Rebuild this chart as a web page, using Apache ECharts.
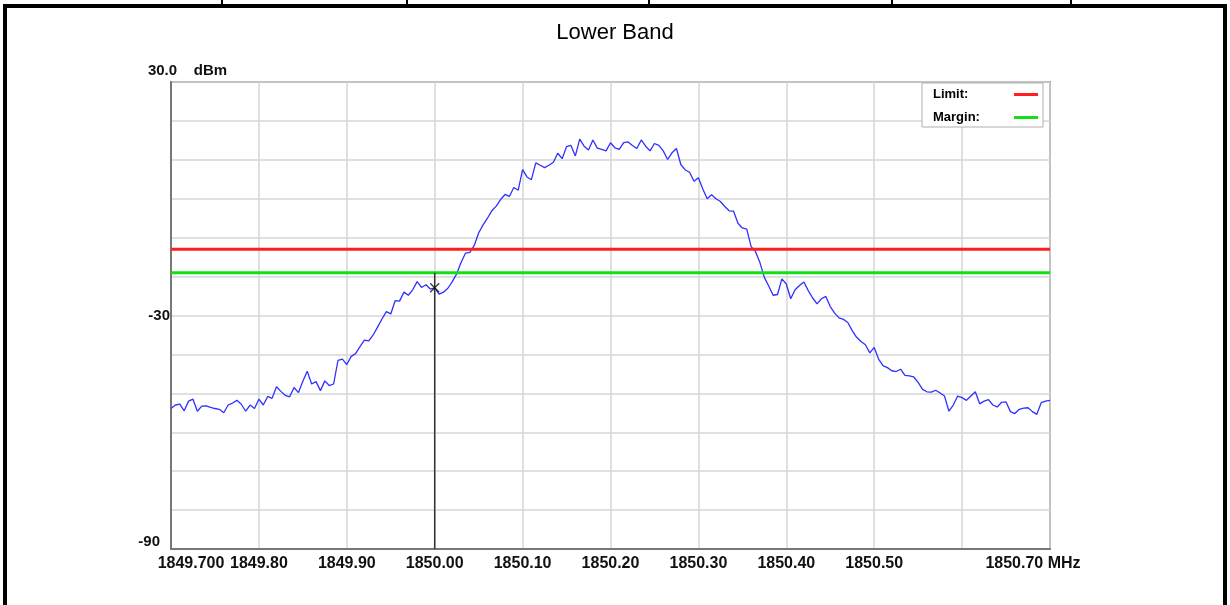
<!DOCTYPE html>
<html><head><meta charset="utf-8">
<script src="https://cdn.jsdelivr.net/npm/echarts@6/dist/echarts.min.js"></script>
<style>html,body{margin:0;padding:0;background:#fff}#c{width:1230px;height:605px}</style>
</head><body><div id="c"></div>
<script>
// Sweep: 1849.700 .. 1850.700 MHz, 5 kHz per trace point
const startMHz = 1849.70;
const stepMHz = 0.005;
const traceDbm = [
-53.9,-53.0,-52.8,-54.5,-52.0,-51.5,-54.6,-53.3,-53.2,-53.6,
-53.9,-54.1,-55.0,-53.0,-52.5,-51.8,-52.8,-54.6,-53.0,-53.9,
-51.5,-53.0,-50.8,-51.3,-48.3,-49.5,-50.5,-50.9,-48.5,-49.8,
-46.9,-44.3,-47.6,-47.0,-49.3,-46.8,-48.0,-47.6,-41.5,-41.2,
-42.6,-40.5,-39.8,-38.0,-36.3,-36.5,-35.0,-33.0,-30.9,-29.0,
-29.6,-26.2,-26.3,-24.0,-24.8,-23.4,-21.3,-22.8,-22.1,-23.2,
-22.9,-24.5,-24.0,-23.0,-21.3,-19.3,-16.4,-14.0,-13.8,-12.0,
-8.8,-6.7,-5.0,-3.1,-1.9,-0.2,1.1,0.6,2.9,2.2,
7.5,5.6,4.9,9.2,8.6,8.0,8.6,9.4,11.7,10.3,
13.4,13.7,11.0,15.3,13.5,12.5,15.1,13.0,12.7,12.3,
14.4,13.1,12.7,14.4,14.6,13.7,12.9,15.1,13.5,12.3,
14.2,13.7,12.3,10.1,11.8,12.9,8.8,7.4,6.8,4.5,
5.4,2.5,0.0,1.0,0.0,-0.7,-2.0,-3.1,-3.2,-6.3,
-7.5,-7.8,-12.3,-13.6,-16.4,-20.2,-22.4,-24.8,-24.6,-20.6,
-21.9,-25.7,-23.4,-22.3,-21.4,-23.6,-25.5,-27.0,-25.7,-25.1,
-27.7,-29.4,-30.6,-31.0,-31.8,-33.9,-35.6,-36.7,-37.5,-39.6,
-38.2,-41.2,-42.9,-43.4,-44.2,-44.4,-43.8,-45.4,-45.5,-45.8,
-47.2,-49.0,-49.6,-49.7,-49.2,-49.9,-50.7,-54.6,-53.0,-50.7,
-51.1,-51.8,-50.7,-49.6,-52.7,-52.0,-51.6,-53.0,-53.5,-52.3,
-52.2,-54.7,-55.2,-54.1,-53.8,-53.7,-54.7,-55.4,-52.4,-52.0,
-51.8
];
const limitDbm = -13;
const marginDbm = -19;
const markerMHz = 1850.00;
const markerDbm = -22.9;
const xTickLabels = ['1849.700','1849.80','1849.90','1850.00','1850.10','1850.20','1850.30','1850.40','1850.50','','1850.70 MHz'];
const yShownLabels = ['-30','-90'];
const yTopLabel = '30.0    dBm';
const titleText = 'Lower Band';

const xMin = 1849.7, xMax = 1850.7;
const tracePts = traceDbm.map((v, i) => [+(startMHz + i * stepMHz).toFixed(3), v]);

const chart = echarts.init(document.getElementById('c'), null, {renderer: 'canvas'});
const lblFont = {fontFamily: 'Liberation Sans, Arial, sans-serif', fontWeight: 'bold', fontSize: 16, color: '#111'};
chart.setOption({
  animation: false,
  backgroundColor: '#fff',
  title: {text: titleText, left: 'center', top: 17,
    textStyle: {fontFamily: 'Liberation Sans, Arial, sans-serif', fontWeight: 'normal', fontSize: 22, color: '#000'}},
  graphic: [
    {type: 'rect', silent: true, z: 100, shape: {x: 5, y: 6, width: 1220, height: 620},
      style: {fill: 'none', stroke: '#000', lineWidth: 4}},
    {type: 'line', silent: true, z: 100, shape: {x1: 222, y1: 0, x2: 222, y2: 6}, style: {stroke: '#000', lineWidth: 2}},
    {type: 'line', silent: true, z: 100, shape: {x1: 407, y1: 0, x2: 407, y2: 6}, style: {stroke: '#000', lineWidth: 2}},
    {type: 'line', silent: true, z: 100, shape: {x1: 649, y1: 0, x2: 649, y2: 6}, style: {stroke: '#000', lineWidth: 2}},
    {type: 'line', silent: true, z: 100, shape: {x1: 892, y1: 0, x2: 892, y2: 6}, style: {stroke: '#000', lineWidth: 2}},
    {type: 'line', silent: true, z: 100, shape: {x1: 1071, y1: 0, x2: 1071, y2: 6}, style: {stroke: '#000', lineWidth: 2}}
  ],
  legend: {
    data: ['Limit:', 'Margin:'],
    orient: 'vertical', right: 187, top: 83, align: 'right',
    backgroundColor: '#fff', borderColor: '#b0b0b0', borderWidth: 1, borderRadius: 0,
    padding: [5, 5, 3, 11], itemGap: 10, itemWidth: 24, itemHeight: 3, icon: 'rect',
    formatter: n => '{a|' + n + '}',
    textStyle: {rich: {a: {width: 76, align: 'left', fontFamily: 'Liberation Sans, Arial, sans-serif', fontWeight: 'bold', fontSize: 13, color: '#000', lineHeight: 14}}}
  },
  grid: {left: 171, right: 180, top: 82, bottom: 56, show: true, borderColor: '#8a8a8a', borderWidth: 2, backgroundColor: '#fff'},
  xAxis: {
    type: 'value', min: xMin, max: xMax, interval: 0.1,
    axisLine: {show: true, onZero: false, lineStyle: {color: '#777', width: 2}},
    axisTick: {show: false},
    splitLine: {show: true, lineStyle: {color: '#d6d6d6', width: 1.5}},
    axisLabel: Object.assign({
      margin: 7, showMinLabel: true, showMaxLabel: true,
      formatter: v => {
        const k = Math.round((v - xMin) / 0.1);
        const t = xTickLabels[k] || '';
        if (k === 0) return '{first|' + t + '}';
        if (k === 10) return '{last|' + t + '}';
        return t;
      },
      rich: {
        first: Object.assign({padding: [0, 0, 0, 40]}, lblFont),
        last: Object.assign({padding: [0, 34, 0, 0]}, lblFont)
      }
    }, lblFont)
  },
  yAxis: {
    type: 'value', min: -90, max: 30, interval: 10,
    name: yTopLabel, nameLocation: 'end', nameGap: 4,
    nameTextStyle: Object.assign({align: 'center', padding: [0, 0, 0, 33]}, lblFont, {fontSize: 15}),
    axisLine: {show: true, onZero: false, lineStyle: {color: '#777', width: 2}},
    axisTick: {show: false},
    splitLine: {show: true, lineStyle: {color: '#d6d6d6', width: 1.5}},
    axisLabel: Object.assign({
      margin: 1,
      formatter: v => {
        const s = String(Math.round(v));
        if (!yShownLabels.includes(s)) return '';
        if (s === '-90') return '{b|' + s + '}';
        return s;
      },
      rich: {b: Object.assign({padding: [0, 10, 14, 0]}, lblFont, {fontSize: 15})}
    }, lblFont, {fontSize: 15})
  },
  series: [
    {name: 'trace', type: 'line', data: tracePts, showSymbol: false, z: 2,
      lineStyle: {color: '#3030ff', width: 1.3}, itemStyle: {color: '#3030ff'}},
    {name: 'Limit:', type: 'line', data: [[xMin, limitDbm], [xMax, limitDbm]], showSymbol: false, z: 3,
      lineStyle: {color: '#ff1f1f', width: 3}, itemStyle: {color: '#ff1f1f'}},
    {name: 'Margin:', type: 'line', data: [[xMin, marginDbm], [xMax, marginDbm]], showSymbol: false, z: 3,
      lineStyle: {color: '#12e012', width: 3}, itemStyle: {color: '#12e012'}},
    {name: 'marker', type: 'line', data: [[markerMHz, -90], [markerMHz, marginDbm]], showSymbol: false, z: 4,
      lineStyle: {color: '#333', width: 1.5}},
    {name: 'markerX', type: 'scatter', data: [[markerMHz, markerDbm]], z: 5,
      symbol: 'path://M0,1 L1,0 L5,4 L9,0 L10,1 L6,5 L10,9 L9,10 L5,6 L1,10 L0,9 L4,5 Z',
      symbolSize: 10, itemStyle: {color: '#111'}}
  ]
});
</script></body></html>
